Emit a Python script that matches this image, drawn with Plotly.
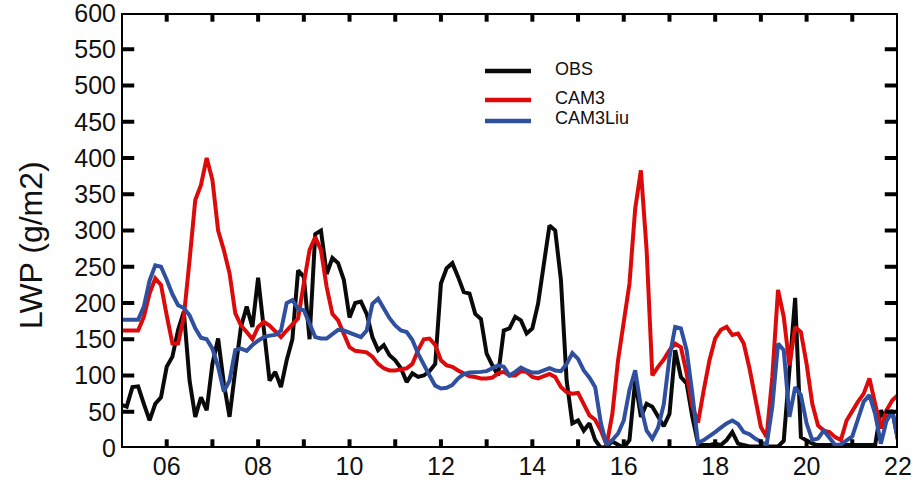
import plotly.graph_objects as go

# time axis: day of month, 3-hourly samples starting at day 5
start_day = 5.0
step_days = 0.125

obs = [60, 57, 84, 85, 61, 38, 61, 70, 112, 126, 163, 188, 93, 43, 70, 52, 116, 151, 89, 43,
       107, 167, 195, 167, 235, 165, 93, 105, 84, 121, 150, 245, 236, 150, 295, 300, 240, 262, 255, 232,
       180, 200, 202, 185, 153, 135, 142, 128, 121, 110, 91, 103, 98, 100, 106, 116, 227, 248, 255, 236,
       215, 213, 185, 178, 130, 114, 100, 162, 165, 181, 176, 158, 165, 199, 255, 307, 300, 232, 93, 34,
       38, 24, 34, 11, 0, 2, 9, 4, 0, 11, 93, 43, 61, 57, 43, 30, 47, 135, 98, 89,
       43, 6, 4, 4, 6, 4, 11, 22, 6, 4, 2, 2, 2, 2, 2, 2, 10, 110, 207, 15,
       11, 6, 4, 4, 4, 4, 4, 4, 4, 4, 4, 4, 4, 52, 38, 52, 11]

cam3 = [162, 162, 162, 162, 181, 213, 234, 225, 183, 144, 144, 181, 259, 342, 363, 400, 370, 300, 273, 241,
        186, 169, 160, 150, 167, 174, 169, 160, 153, 162, 170, 179, 227, 273, 291, 273, 222, 185, 176, 158,
        139, 134, 133, 132, 126, 116, 110, 107, 107, 109, 110, 116, 135, 150, 151, 142, 121, 114, 112, 107,
        103, 99, 98, 96, 96, 97, 103, 105, 100, 100, 106, 105, 98, 96, 99, 102, 98, 84, 77, 75,
        76, 61, 45, 39, 24, 4, 47, 121, 176, 227, 330, 383, 273, 100, 112, 122, 135, 144, 139, 103,
        57, 35, 80, 121, 151, 163, 167, 156, 158, 144, 110, 70, 29, 15, 98, 218, 181, 114, 167, 160,
        116, 61, 31, 24, 22, 15, 11, 38, 52, 64, 75, 96, 61, 27, 52, 66, 73]

cam3liu = [177, 177, 177, 177, 195, 231, 252, 250, 232, 212, 197, 193, 183, 165, 152, 150, 137, 112, 78, 93,
           135, 137, 134, 142, 148, 153, 155, 156, 162, 200, 204, 192, 190, 172, 153, 151, 151, 157, 163, 162,
           159, 155, 153, 162, 199, 206, 192, 179, 169, 162, 160, 149, 130, 114, 100, 86, 82, 83, 87, 96,
           102, 104, 104, 105, 106, 110, 114, 112, 100, 105, 111, 107, 104, 104, 107, 110, 107, 106, 116, 131,
           123, 107, 97, 84, 34, 4, 11, 20, 38, 80, 107, 57, 24, 13, 28, 60, 125, 167, 165, 135,
           75, 7, 11, 16, 22, 28, 34, 38, 33, 22, 19, 13, 8, 4, 57, 144, 135, 43, 84, 73,
           34, 11, 13, 24, 14, 4, 5, 11, 16, 40, 64, 73, 47, 6, 38, 50, 11]

days = [start_day + k * step_days for k in range(len(obs))]

x_range = [5, 22]
y_range = [0, 600]
x_tick_vals = list(range(6, 23))
x_tick_text = ["06", "", "08", "", "10", "", "12", "", "14", "", "16", "", "18", "", "20", "", "22"]
y_tick_vals = list(range(0, 601, 50))

series_names = ["OBS", "CAM3", "CAM3Liu"]
series_colors = ["#0a0a0a", "#dc0a0a", "#2f4f9f"]

FONT = "Liberation Sans"
FRAME_W = 4
YTICK_LEN = 0.29   # in days (~13 px)
XTICK_LEN = 12     # in g/m2 (~9 px)

fig = go.Figure()
for name, vals, col in zip(series_names, [obs, cam3, cam3liu], series_colors):
    fig.add_trace(go.Scatter(x=days, y=vals, mode="lines", name=name,
                             line=dict(color=col, width=4), showlegend=False,
                             hoverinfo="skip"))

# frame box (through the axes' own scales)
fig.add_trace(go.Scatter(
    x=[x_range[0], x_range[1], x_range[1], x_range[0], x_range[0]],
    y=[y_range[0], y_range[0], y_range[1], y_range[1], y_range[0]],
    mode="lines", line=dict(color="black", width=FRAME_W), cliponaxis=False,
    showlegend=False, hoverinfo="skip"))

# inward tick marks on all four sides
tx, ty = [], []
for v in y_tick_vals[1:-1]:
    tx += [x_range[0], x_range[0] + YTICK_LEN, None, x_range[1] - YTICK_LEN, x_range[1], None]
    ty += [v, v, None, v, v, None]
for d in x_tick_vals[:-1]:
    tx += [d, d, None, d, d, None]
    ty += [y_range[0], y_range[0] + XTICK_LEN, None, y_range[1] - XTICK_LEN, y_range[1], None]
fig.add_trace(go.Scatter(x=tx, y=ty, mode="lines", line=dict(color="black", width=FRAME_W),
                         cliponaxis=False, showlegend=False, hoverinfo="skip",
                         connectgaps=False))

axis_common = dict(showline=False, ticks="", showgrid=False, zeroline=False,
                   automargin=False, ticklabeloverflow="allow", fixedrange=True,
                   tickfont=dict(family=FONT, size=25, color="#111111"))

fig.update_layout(
    width=916, height=485,
    margin=dict(l=121, r=18, t=13, b=37),
    paper_bgcolor="white", plot_bgcolor="white",
    xaxis=dict(range=x_range, tickmode="array", tickvals=x_tick_vals, ticktext=x_tick_text,
               ticklabelstandoff=1, **axis_common),
    yaxis=dict(range=y_range, tickmode="array", tickvals=y_tick_vals,
               ticklabelstandoff=4, **axis_common),
)

# y-axis title
fig.add_annotation(text="LWP (g/m2)", xref="paper", yref="paper",
                   x=(31 - 121) / 777, y=(448 - 245) / 435, textangle=-90,
                   xanchor="center", yanchor="middle", showarrow=False,
                   font=dict(family=FONT, size=32, color="#111111"))

# legend (drawn manually to match sample length and spacing)
legend_rows = [(71, 68), (100, 97), (121, 117)]  # (line y, text y) in pixels
for (ly, ty_), name, col in zip(legend_rows, series_names, series_colors):
    fig.add_shape(type="line", xref="paper", yref="paper",
                  x0=(485 - 121) / 777, x1=(531 - 121) / 777,
                  y0=(448 - ly) / 435, y1=(448 - ly) / 435,
                  line=dict(color=col, width=4.5))
    fig.add_annotation(text=name, xref="paper", yref="paper",
                       x=(553 - 121) / 777, y=(448 - ty_ - 1) / 435,
                       xanchor="left", yanchor="middle", showarrow=False,
                       font=dict(family=FONT, size=18, color="#111111"))

fig.write_html("out.html", config={"displayModeBar": False},
               post_script="document.body.style.margin='0';document.body.style.overflow='hidden';")
